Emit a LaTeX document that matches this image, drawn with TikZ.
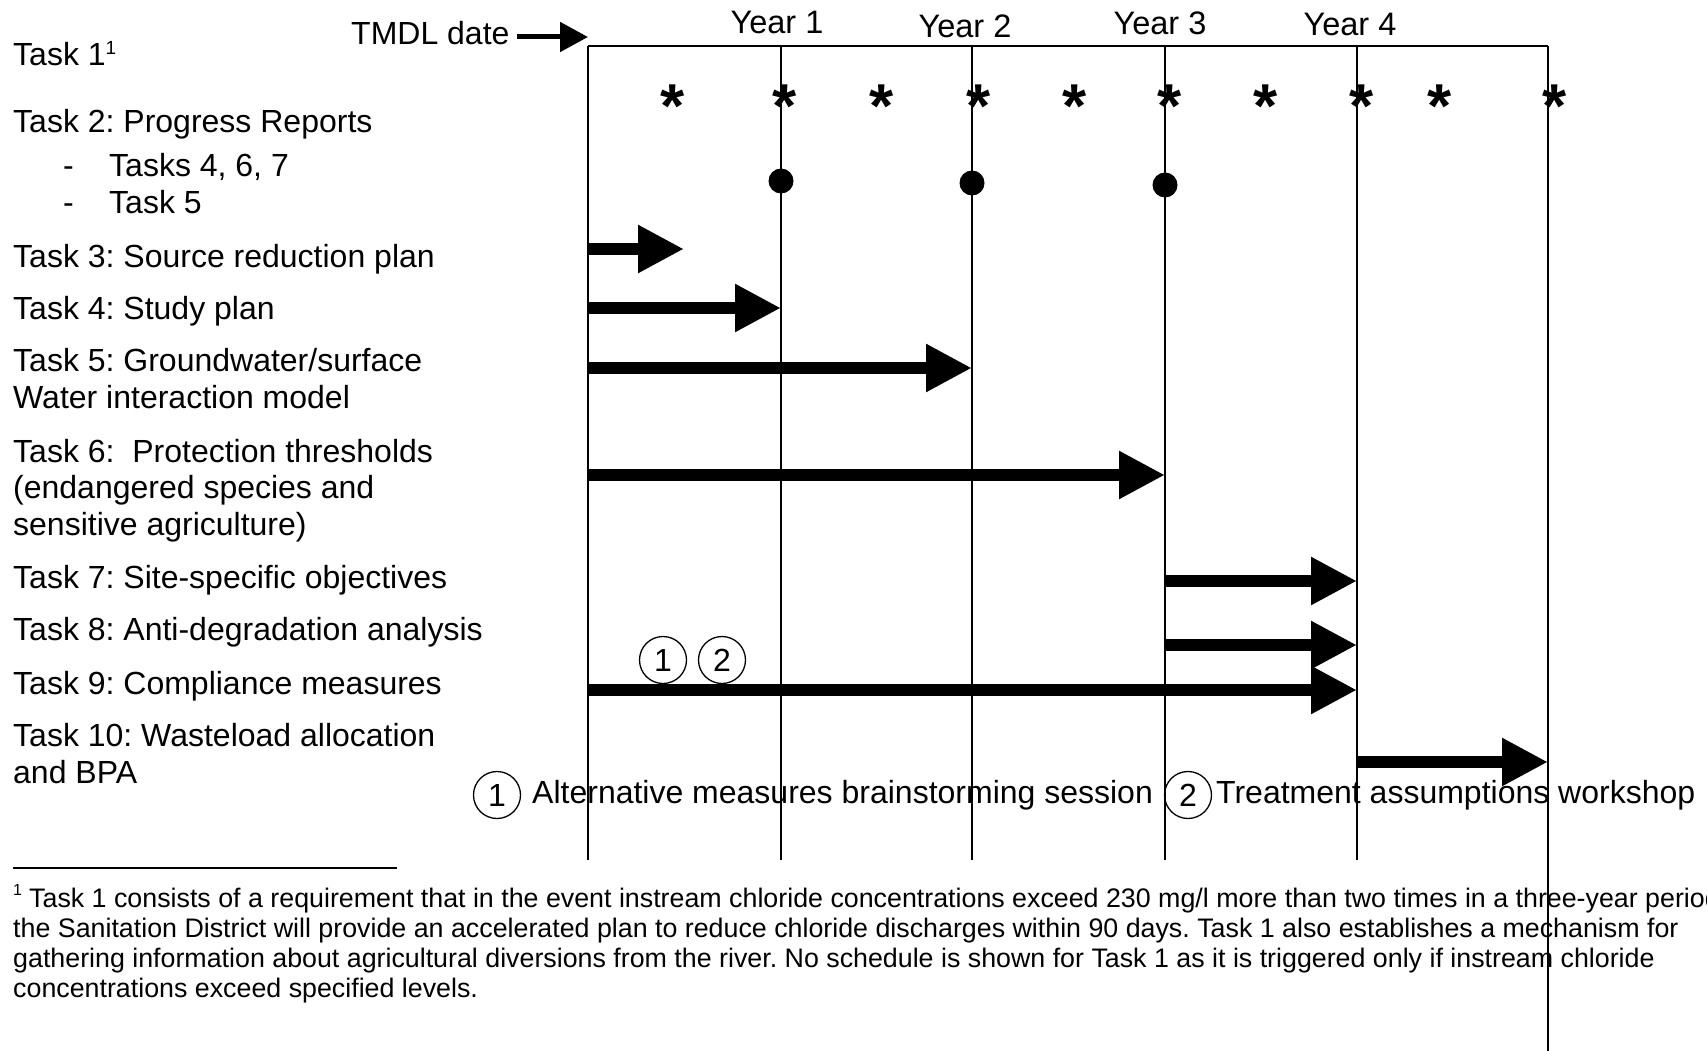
\documentclass[tikz,border=0pt]{standalone}
\usepackage{fontspec}
\setmainfont{Liberation Sans}
\usetikzlibrary{arrows.meta}
\frenchspacing
\begin{document}
\begin{tikzpicture}[x=1pt,y=-1pt,
  lbl/.style={anchor=base west, inner sep=0, align=left, font=\fontsize{32}{36.5}\selectfont},
  yearlbl/.style={anchor=base, inner sep=0, font=\fontsize{32.5}{36}\selectfont},
  note/.style={anchor=base west, inner sep=0, align=left, font=\fontsize{26.8}{30}\selectfont},
  grid/.style={line width=2pt},
  bar/.style={line width=12pt, -{Triangle[length=46pt,width=45pt]}},
  tmdlarrow/.style={line width=5pt, -{Triangle[length=28pt,width=29pt]}},
  star/.style={anchor=base, inner sep=0, font=\fontsize{62}{62}\bfseries\selectfont},
  dot/.style={circle, fill, inner sep=0, minimum size=25pt},
  num/.style={circle, draw, line width=1.3pt, inner sep=0, minimum size=47pt, font=\fontsize{32}{32}\selectfont},
]
\useasboundingbox (0,0) rectangle (1707,1051);

% year grid
\foreach \n/\x in {0/588,1/781,2/972,3/1165,4/1357,5/1548}
  \coordinate (g\n) at (\x,46);
\foreach \n/\x in {0/588,1/781,2/972,3/1165,4/1357}
  \coordinate (g\n b) at (\x,860);
\coordinate (g5b) at (1548,1051);
\draw[grid] (g0) -- (g5);
\foreach \n in {0,...,5} \draw[grid] (g\n) -- (g\n b);

% TMDL date marker
\node[lbl] (tmdl) at (351,45) {TMDL date};
\coordinate (tmdlstart) at (517,37);
\coordinate (tmdltip) at (588,37);
\draw[tmdlarrow] (tmdlstart) -- (tmdltip);

% year labels
\node[yearlbl] (yr1) at (777,34) {Year 1};
\node[yearlbl] (yr2) at (965,38) {Year 2};
\node[yearlbl] (yr3) at (1160,35) {Year 3};
\node[yearlbl] (yr4) at (1350,36) {Year 4};

% task labels (multi-line labels are placed by their last baseline)
\node[lbl] (t1) at (13,66) {Task 1\raisebox{0.35em}{\fontsize{19}{19}\selectfont 1}};
\node[lbl] (t2) at (13,133) {Task 2: Progress Reports};
\node[lbl] (t2a) at (63,177) {-};
\node[lbl] (t2b) at (109,177) {Tasks 4, 6, 7};
\node[lbl] (t2c) at (63,213) {-};
\node[lbl] (t2d) at (109,213) {Task 5};
\node[lbl] (t3) at (13,267) {Task 3: Source reduction plan};
\node[lbl] (t4) at (13,319) {Task 4: Study plan};
\node[lbl] (t5) at (13,408) {Task 5: Groundwater/surface\\Water interaction model};
\node[lbl] (t6) at (13,535) {Task 6:\ \ Protection thresholds\\(endangered species and\\sensitive agriculture)};
\node[lbl] (t7) at (13,588) {Task 7: Site-specific objectives};
\node[lbl] (t8) at (13,640) {Task 8: Anti-degradation analysis};
\node[lbl] (t9) at (13,694) {Task 9: Compliance measures};
\node[lbl] (t10) at (13,783) {Task 10: Wasteload allocation\\and BPA};

% reporting asterisks
\foreach \x [count=\i] in {673,785,882,979,1075,1170,1266,1362,1440,1555}
  \node[star] (st\i) at (\x,128) {*};

% progress report dots
\node[dot] (d1) at (781,181) {};
\node[dot] (d2) at (972,183) {};
\node[dot] (d3) at (1165,185) {};

% schedule bars
\coordinate (s3) at (588,249);  \coordinate (e3) at (684,249);
\coordinate (s4) at (588,308);  \coordinate (e4) at (781,308);
\coordinate (s5) at (588,368);  \coordinate (e5) at (972,368);
\coordinate (s6) at (588,475);  \coordinate (e6) at (1165,475);
\coordinate (s7) at (1165,581); \coordinate (e7) at (1357,581);
\coordinate (s8) at (1165,645); \coordinate (e8) at (1357,645);
\coordinate (s9) at (588,690);  \coordinate (e9) at (1357,690);
\coordinate (s10) at (1357,762); \coordinate (e10) at (1548,762);
\foreach \k in {3,...,10} \draw[bar] (s\k) -- (e\k);

% workshop markers on the compliance bar
\node[num] (m1) at (663,660) {1};
\node[num] (m2) at (722,660) {2};

% legend
\node[num] (l1) at (497,795) {1};
\node[lbl] (l1t) at (532,803) {Alternative measures brainstorming session};
\node[num] (l2) at (1188,795) {2};
\node[lbl] (l2t) at (1216,803) {Treatment assumptions workshop};

% footnote
\coordinate (fnl) at (13,868);
\coordinate (fnr) at (397,868);
\draw[line width=2pt] (fnl) -- (fnr);
\node[anchor=base west, inner sep=0, font=\fontsize{16}{16}\selectfont] (fnmark) at (13,895) {1};
\node[note] (fn1) at (29,907) {Task 1 consists of a requirement that in the event instream chloride concentrations exceed 230 mg/l more than two times in a three-year period,};
\node[note] (fn2) at (13,997) {the Sanitation District will provide an accelerated plan to reduce chloride discharges within 90 days. Task 1 also establishes a mechanism for\\gathering information about agricultural diversions from the river. No schedule is shown for Task 1 as it is triggered only if instream chloride\\concentrations exceed specified levels.};
\end{tikzpicture}
\end{document}
